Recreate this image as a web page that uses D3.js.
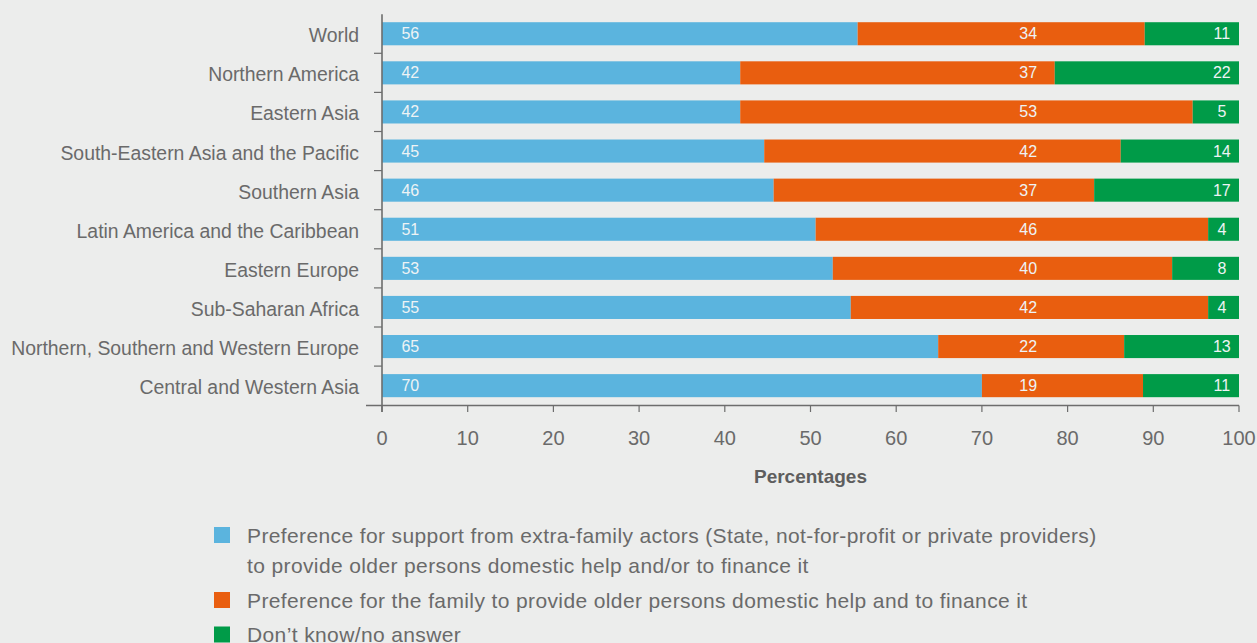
<!DOCTYPE html>
<html>
<head>
<meta charset="utf-8">
<script src="https://cdn.jsdelivr.net/npm/d3@7"></script>
<style>
  html, body { margin: 0; padding: 0; background: #ecedec; }
  svg { display: block; }
  text { font-family: "Liberation Sans", Arial, Helvetica, sans-serif; }
</style>
</head>
<body>
<svg id="chart" width="1257" height="643"></svg>
<script>
// ---- data ----
const regions = [
  "World",
  "Northern America",
  "Eastern Asia",
  "South-Eastern Asia and the Pacific",
  "Southern Asia",
  "Latin America and the Caribbean",
  "Eastern Europe",
  "Sub-Saharan Africa",
  "Northern, Southern and Western Europe",
  "Central and Western Asia"
];
const extraFamily = [55.5, 41.8, 41.8, 44.6, 45.7, 50.6, 52.6, 54.7, 64.9, 70.0];
const family      = [33.5, 36.7, 52.8, 41.6, 37.4, 45.8, 39.6, 41.7, 21.7, 18.8];
const dontKnow    = [11.0, 21.5,  5.4, 13.8, 16.9,  3.6,  7.8,  3.6, 13.4, 11.2];
const xTicks = [0, 10, 20, 30, 40, 50, 60, 70, 80, 90, 100];
const seriesNames = [
  ["Preference for support from extra-family actors (State, not-for-profit or private providers)",
   "to provide older persons domestic help and/or to finance it"],
  ["Preference for the family to provide older persons domestic help and to finance it"],
  ["Don\u2019t know/no answer"]
];
const xTitle = "Percentages";

// ---- styles ----
const colors = ["#5bb4de", "#e95e0f", "#009b48"];
const textColor = "#6a6a6a";
const axisColor = "#6d6d6d";
// label anchor positions (in axis units) for each series
const labelAnchor = [3.3, 75.4, 98.0];

const svg = d3.select("#chart");
const x = d3.scaleLinear().domain([0, 100]).range([382, 1239]);
const y = d3.scaleBand().domain(regions).range([14.2, 405.2]).paddingInner(0.41).paddingOuter(0.205);

const rows = regions.map((r, i) => ({ region: r, s0: extraFamily[i], s1: family[i], s2: dontKnow[i] }));
const stack = d3.stack().keys(["s0", "s1", "s2"]);
const layers = stack(rows);

// bars
const g = svg.append("g");
layers.forEach((layer, li) => {
  g.append("g").selectAll("rect").data(layer).join("rect")
    .attr("x", d => x(d[0]))
    .attr("y", d => y(d.data.region))
    .attr("width", d => x(d[1]) - x(d[0]))
    .attr("height", y.bandwidth())
    .attr("fill", colors[li]);
});

// value labels
layers.forEach((layer, li) => {
  g.append("g").selectAll("text").data(layer).join("text")
    .attr("x", x(labelAnchor[li]))
    .attr("y", d => y(d.data.region) + y.bandwidth() / 2 + 5.5)
    .attr("text-anchor", "middle")
    .attr("font-size", 16)
    .attr("fill", "#eef3f5")
    .text(d => Math.round(d[1] - d[0]));
});

// y axis
const yAxis = svg.append("g");
yAxis.append("line").attr("x1", x(0)).attr("x2", x(0)).attr("y1", 14.2).attr("y2", 412)
  .attr("stroke", axisColor).attr("stroke-width", 1.6);
const step = y.step();
const bounds = d3.range(1, regions.length).map(i => 14.2 + i * step);
yAxis.selectAll("line.tick").data(bounds).join("line").attr("class", "tick")
  .attr("x1", x(0) - 8).attr("x2", x(0)).attr("y1", d => d).attr("y2", d => d)
  .attr("stroke", axisColor).attr("stroke-width", 1.2);
yAxis.selectAll("text").data(regions).join("text")
  .attr("x", 359)
  .attr("y", d => y(d) + y.bandwidth() / 2 + 8.5)
  .attr("text-anchor", "end")
  .attr("font-size", 19.4)
  .attr("fill", textColor)
  .text(d => d);

// x axis
const xAxisY = 405.5;
const xAxis = svg.append("g");
xAxis.append("line").attr("x1", 366).attr("x2", x(100)).attr("y1", xAxisY).attr("y2", xAxisY)
  .attr("stroke", axisColor).attr("stroke-width", 1.6);
xAxis.selectAll("line.tick").data(xTicks).join("line").attr("class", "tick")
  .attr("x1", d => x(d)).attr("x2", d => x(d)).attr("y1", xAxisY).attr("y2", 412)
  .attr("stroke", axisColor).attr("stroke-width", 1.2);
xAxis.selectAll("text").data(xTicks).join("text")
  .attr("x", d => x(d)).attr("y", 445)
  .attr("text-anchor", "middle")
  .attr("font-size", 20)
  .attr("fill", textColor)
  .text(d => d);

svg.append("text")
  .attr("x", (x(0) + x(100)) / 2).attr("y", 483)
  .attr("text-anchor", "middle")
  .attr("font-size", 19)
  .attr("font-weight", "bold")
  .attr("fill", "#5e5e5e")
  .text(xTitle);

// legend
const legendTop = [527, 592, 626.5];
const legend = svg.append("g");
seriesNames.forEach((lines, i) => {
  legend.append("rect").attr("x", 214).attr("y", legendTop[i]).attr("width", 16).attr("height", 16)
    .attr("fill", colors[i]);
  lines.forEach((ln, j) => {
    legend.append("text")
      .attr("x", 247).attr("y", legendTop[i] + 15.5 + j * 30.5)
      .attr("font-size", 21)
      .attr("letter-spacing", 0.38)
      .attr("fill", textColor)
      .text(ln);
  });
});
</script>
</body>
</html>
